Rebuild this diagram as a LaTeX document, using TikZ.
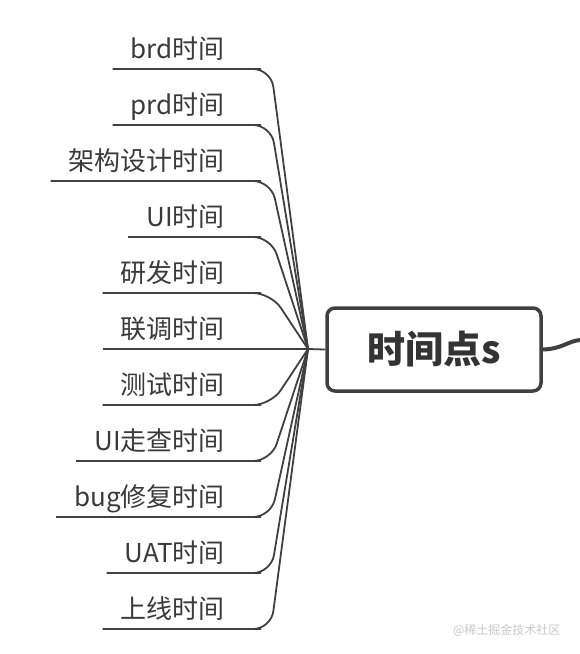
\documentclass[tikz,border=0pt]{standalone}
\usepackage{fontspec}
\usepackage{xcolor}
\usepackage{tikz}
\usetikzlibrary{positioning}
\newfontfamily\cjk{Noto Sans CJK SC}
\definecolor{mygray}{RGB}{64,64,64}
\definecolor{marklight}{RGB}{200,200,200}

\begin{document}
\begin{tikzpicture}[x=1pt, y=-1pt,
    topic/.style={inner xsep=18pt, inner ysep=5.5pt, text height=21pt, text depth=5pt,
                  font=\cjk\fontsize{26}{30}\selectfont, text=mygray!90!black},
    root/.style={rectangle, rounded corners=8pt, draw=mygray, line width=3.5pt,
                 minimum width=214pt, minimum height=83pt, font=\cjk\bfseries\fontsize{38}{44}\selectfont,
                 text=mygray!80!black},
    branch/.style={draw=mygray, line width=1.8pt, rounded corners=18pt},
    link/.style={draw=mygray, line width=4pt}]
\useasboundingbox (0,0) rectangle (580,654);
\node[root] (r) at (434,349.5) {时间点s};
\coordinate (jn) at (308,349);
\coordinate (bend) at (271,349);
\coordinate (out) at (580,340);
\foreach \txt [count=\i] in {brd时间,prd时间,架构设计时间,UI时间,研发时间,联调时间,
                            测试时间,UI走查时间,bug修复时间,UAT时间,上线时间}{
  \pgfmathsetmacro{\uy}{69+56*(\i-1)}
  \node[topic, anchor=south east] (t\i) at (243,\uy) {\txt};
  \draw[branch] (t\i.south west) -- (t\i.south east) -- (t\i.south -| bend) -- (jn);
}
\draw[draw=mygray, line width=1.8pt] (jn) -- (r.west);
\draw[link] (r.east) .. controls (562,349) and (568,341) .. (out);
\node[font=\cjk\fontsize{12}{14}\selectfont, text=marklight, anchor=east] (wm) at (564,630) {@稀土掘金技术社区};
\end{tikzpicture}
\end{document}
